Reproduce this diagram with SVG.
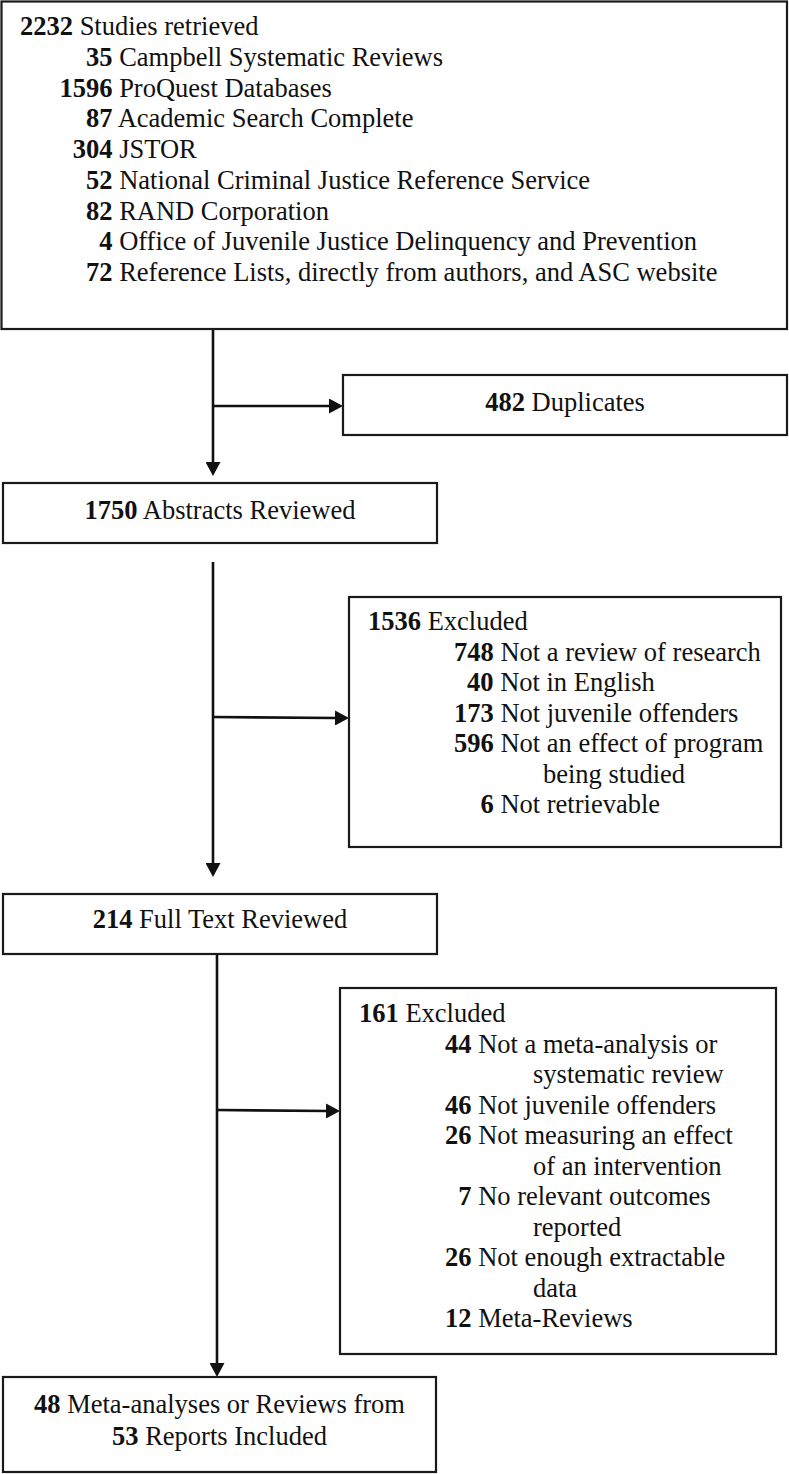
<svg xmlns="http://www.w3.org/2000/svg" width="789" height="1474" viewBox="0 0 789 1474">
<style>
  .box { fill: #ffffff; stroke: #1a1a1a; stroke-width: 2.2; }
  .t { font-family: "Liberation Serif", "Times New Roman", serif; font-size: 26.5px; fill: #111111; }
  .c { text-anchor: middle; }
  .b { font-weight: bold; }
  .conn { fill: none; stroke: #111111; stroke-width: 2.6; }
</style>
<defs>
  <marker id="arrow" markerUnits="userSpaceOnUse" markerWidth="14" markerHeight="15" viewBox="0 0 14 15" refX="2" refY="7.5" orient="auto">
    <path d="M0,0 L14,7.5 L0,15 Z" fill="#111111"/>
  </marker>
</defs>
<rect width="789" height="1474" fill="#ffffff"/>

<g id="connectors">
  <line class="conn" x1="213" y1="329" x2="213" y2="464" marker-end="url(#arrow)"/>
  <line class="conn" x1="213" y1="406" x2="331" y2="406" marker-end="url(#arrow)"/>
  <line class="conn" x1="213" y1="562" x2="213" y2="865" marker-end="url(#arrow)"/>
  <line class="conn" x1="213" y1="717" x2="337" y2="718" marker-end="url(#arrow)"/>
  <line class="conn" x1="217" y1="955" x2="217" y2="1365" marker-end="url(#arrow)"/>
  <line class="conn" x1="217" y1="1110" x2="328" y2="1111" marker-end="url(#arrow)"/>
</g>

<g id="studies-retrieved">
  <rect class="box" x="1.5" y="1.5" width="785.5" height="327.5"/>
  <text class="t" x="20" y="35"><tspan class="b">2232</tspan> Studies retrieved</text>
  <text class="t" x="86" y="65.75"><tspan class="b">35</tspan> Campbell Systematic Reviews</text>
  <text class="t" x="59.5" y="96.5"><tspan class="b">1596</tspan> ProQuest Databases</text>
  <text class="t" x="86" y="127.25"><tspan class="b">87</tspan> Academic Search Complete</text>
  <text class="t" x="72.75" y="158"><tspan class="b">304</tspan> JSTOR</text>
  <text class="t" x="86" y="188.75"><tspan class="b">52</tspan> National Criminal Justice Reference Service</text>
  <text class="t" x="86" y="219.5"><tspan class="b">82</tspan> RAND Corporation</text>
  <text class="t" x="99.25" y="250.25"><tspan class="b">4</tspan> Office of Juvenile Justice Delinquency and Prevention</text>
  <text class="t" x="86" y="281"><tspan class="b">72</tspan> Reference Lists, directly from authors, and ASC website</text>
</g>

<g id="duplicates">
  <rect class="box" x="343" y="375" width="444" height="60"/>
  <text class="t c" x="565" y="411"><tspan class="b">482</tspan> Duplicates</text>
</g>

<g id="abstracts-reviewed">
  <rect class="box" x="3" y="483" width="434" height="60"/>
  <text class="t c" x="220" y="519"><tspan class="b">1750</tspan> Abstracts Reviewed</text>
</g>

<g id="excluded-1">
  <rect class="box" x="349" y="597" width="432" height="250"/>
  <text class="t" x="368" y="630"><tspan class="b">1536</tspan> Excluded</text>
  <text class="t" x="454" y="660.5"><tspan class="b">748</tspan> Not a review of research</text>
  <text class="t" x="467" y="691"><tspan class="b">40</tspan> Not in English</text>
  <text class="t" x="454" y="721.5"><tspan class="b">173</tspan> Not juvenile offenders</text>
  <text class="t" x="454" y="752"><tspan class="b">596</tspan> Not an effect of program</text>
  <text class="t" x="543" y="782.5">being studied</text>
  <text class="t" x="480.5" y="813"><tspan class="b">6</tspan> Not retrievable</text>
</g>

<g id="full-text-reviewed">
  <rect class="box" x="3" y="894" width="434" height="60"/>
  <text class="t c" x="220" y="928"><tspan class="b">214</tspan> Full Text Reviewed</text>
</g>

<g id="excluded-2">
  <rect class="box" x="340" y="988" width="436" height="366"/>
  <text class="t" x="359" y="1022"><tspan class="b">161</tspan> Excluded</text>
  <text class="t" x="445" y="1052.5"><tspan class="b">44</tspan> Not a meta-analysis or</text>
  <text class="t" x="533" y="1083">systematic review</text>
  <text class="t" x="445" y="1113.5"><tspan class="b">46</tspan> Not juvenile offenders</text>
  <text class="t" x="445" y="1144"><tspan class="b">26</tspan> Not measuring an effect</text>
  <text class="t" x="533" y="1174.5">of an intervention</text>
  <text class="t" x="458.25" y="1205"><tspan class="b">7</tspan> No relevant outcomes</text>
  <text class="t" x="533" y="1235.5">reported</text>
  <text class="t" x="445" y="1266"><tspan class="b">26</tspan> Not enough extractable</text>
  <text class="t" x="533" y="1296.5">data</text>
  <text class="t" x="445" y="1327"><tspan class="b">12</tspan> Meta-Reviews</text>
</g>

<g id="included">
  <rect class="box" x="3" y="1377" width="433" height="95"/>
  <text class="t c" x="219.5" y="1413"><tspan class="b">48</tspan> Meta-analyses or Reviews from</text>
  <text class="t c" x="219.5" y="1445"><tspan class="b">53</tspan> Reports Included</text>
</g>
</svg>
